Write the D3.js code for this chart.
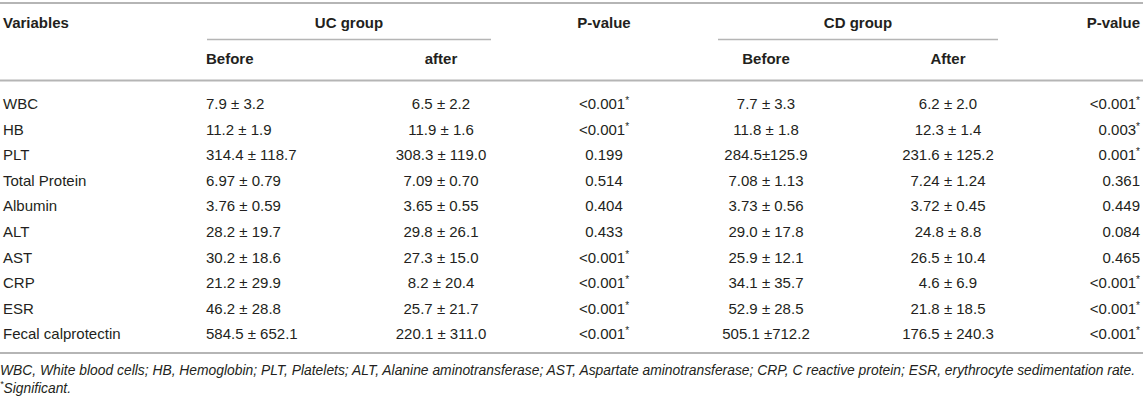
<!DOCTYPE html>
<html>
<head>
<meta charset="utf-8">
<script src="https://cdn.jsdelivr.net/npm/d3@7"></script>
<style>
  body { margin: 0; background: #fff; }
  svg { display: block; font-family: "Liberation Sans", Arial, Helvetica, sans-serif; }
</style>
</head>
<body>
<div id="table"></div>
<script>
const variables = ["WBC", "HB", "PLT", "Total Protein", "Albumin", "ALT", "AST", "CRP", "ESR", "Fecal calprotectin"];
const ucBefore = ["7.9 ± 3.2", "11.2 ± 1.9", "314.4 ± 118.7", "6.97 ± 0.79", "3.76 ± 0.59", "28.2 ± 19.7", "30.2 ± 18.6", "21.2 ± 29.9", "46.2 ± 28.8", "584.5 ± 652.1"];
const ucAfter = ["6.5 ± 2.2", "11.9 ± 1.6", "308.3 ± 119.0", "7.09 ± 0.70", "3.65 ± 0.55", "29.8 ± 26.1", "27.3 ± 15.0", "8.2 ± 20.4", "25.7 ± 21.7", "220.1 ± 311.0"];
const ucP = ["<0.001*", "<0.001*", "0.199", "0.514", "0.404", "0.433", "<0.001*", "<0.001*", "<0.001*", "<0.001*"];
const cdBefore = ["7.7 ± 3.3", "11.8 ± 1.8", "284.5±125.9", "7.08 ± 1.13", "3.73 ± 0.56", "29.0 ± 17.8", "25.9 ± 12.1", "34.1 ± 35.7", "52.9 ± 28.5", "505.1 ±712.2"];
const cdAfter = ["6.2 ± 2.0", "12.3 ± 1.4", "231.6 ± 125.2", "7.24 ± 1.24", "3.72 ± 0.45", "24.8 ± 8.8", "26.5 ± 10.4", "4.6 ± 6.9", "21.8 ± 18.5", "176.5 ± 240.3"];
const cdP = ["<0.001*", "0.003*", "0.001*", "0.361", "0.449", "0.084", "0.465", "<0.001*", "<0.001*", "<0.001*"];

const groupHeaders = ["UC group", "CD group"];
const subHeaders = ["Before", "after", "Before", "After"];
const footnote = "WBC, White blood cells; HB, Hemoglobin; PLT, Platelets; ALT, Alanine aminotransferase; AST, Aspartate aminotransferase; CRP, C reactive protein; ESR, erythrocyte sedimentation rate.";

const width = 1143, height = 410;
const textColor = "#231f20";
const lineColor = "#b5b5b5";

// column layout
const columns = [
  { values: variables, x: 3, anchor: "start" },
  { values: ucBefore, x: 206, anchor: "start" },
  { values: ucAfter, x: 441, anchor: "middle" },
  { values: ucP, x: 604, anchor: "middle" },
  { values: cdBefore, x: 766, anchor: "middle" },
  { values: cdAfter, x: 948, anchor: "middle" },
  { values: cdP, x: 1140, anchor: "end" }
];

const y = d3.scaleBand()
  .domain(variables)
  .range([91, 347]);

const svg = d3.select("#table")
  .append("svg")
  .attr("width", width)
  .attr("height", height)
  .attr("viewBox", `0 0 ${width} ${height}`);

function hline(y0, x0, x1, w) {
  svg.append("line")
    .attr("x1", x0).attr("x2", x1)
    .attr("y1", y0).attr("y2", y0)
    .style("stroke", lineColor)
    .style("stroke-width", w);
}

hline(3, 0, width, 2);
hline(80.5, 0, width, 2);
hline(39.5, 207, 491, 1.4);
hline(39.5, 718, 998, 1.4);
hline(353, 0, width, 2);

// write a value, drawing the trailing asterisk raised and smaller
function writeCell(sel, d) {
  const star = d.endsWith("*");
  sel.text(star ? d.slice(0, -1) : d);
  if (star) {
    sel.append("tspan")
      .attr("dy", -5)
      .style("font-size", "10px")
      .text("*");
  }
}

const header = svg.append("g")
  .style("font-weight", "bold")
  .style("font-size", "15px")
  .style("fill", textColor);

header.append("text").attr("x", 3).attr("y", 23).attr("dy", "0.35em").text("Variables");
header.append("text").attr("x", 604).attr("y", 23).attr("dy", "0.35em").attr("text-anchor", "middle").text("P-value");
header.append("text").attr("x", 1140).attr("y", 23).attr("dy", "0.35em").attr("text-anchor", "end").text("P-value");

header.selectAll("text.group")
  .data(groupHeaders)
  .join("text")
  .attr("class", "group")
  .attr("x", (d, i) => [349, 858][i])
  .attr("y", 23)
  .attr("dy", "0.35em")
  .attr("text-anchor", "middle")
  .text(d => d);

header.selectAll("text.sub")
  .data(subHeaders)
  .join("text")
  .attr("class", "sub")
  .attr("x", (d, i) => [206, 441, 766, 948][i])
  .attr("y", 59)
  .attr("dy", "0.35em")
  .attr("text-anchor", (d, i) => i === 0 ? "start" : "middle")
  .text(d => d);

const body = svg.append("g")
  .style("font-size", "15px")
  .style("fill", textColor);

columns.forEach(col => {
  body.append("g")
    .selectAll("text")
    .data(col.values)
    .join("text")
    .attr("x", col.x)
    .attr("y", (d, i) => y(variables[i]) + y.bandwidth() / 2)
    .attr("dy", "0.35em")
    .attr("text-anchor", col.anchor)
    .each(function (d) { writeCell(d3.select(this), d); });
});

const foot = svg.append("g")
  .style("font-style", "italic")
  .style("font-size", "13.8px")
  .style("fill", textColor);

foot.append("text")
  .attr("x", 0)
  .attr("y", 370)
  .attr("dy", "0.35em")
  .attr("textLength", 1135)
  .attr("lengthAdjust", "spacingAndGlyphs")
  .text(footnote);

const sig = foot.append("text")
  .attr("x", 0)
  .attr("y", 388)
  .attr("dy", "0.35em");
sig.append("tspan").attr("dy", "-0.1em").style("font-size", "9px").text("*");
sig.append("tspan").attr("dy", "0.45em").text("Significant.");
</script>
</body>
</html>
